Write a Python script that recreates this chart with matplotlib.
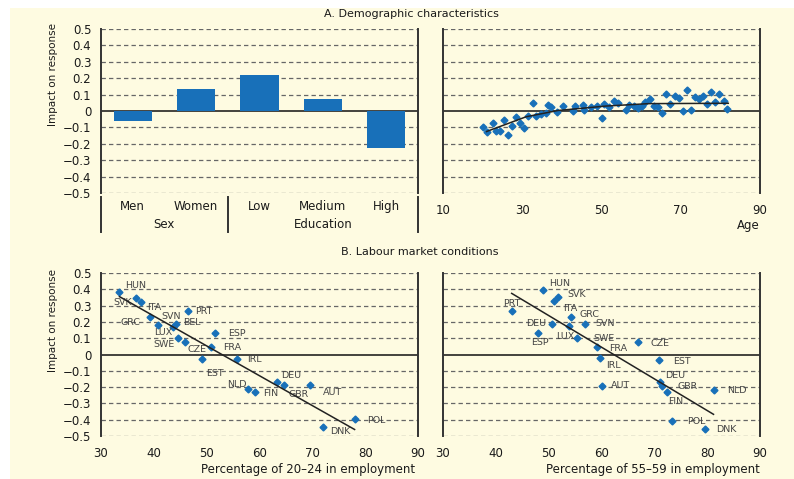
import numpy as np
import matplotlib.pyplot as plt
from matplotlib.patches import Rectangle
from matplotlib.lines import Line2D
import matplotlib.transforms as mtransforms

# --- data -------------------------------------------------------------
demo_cats = ['Men', 'Women', 'Low', 'Medium', 'High']
demo_vals = [-0.06, 0.135, 0.22, 0.075, -0.225]
demo_groups = ['Sex', 'Education']

age = [20.2, 21.2, 22.5, 23.3, 24.4, 25.3, 26.3, 27.5, 28.4, 29.5,
       30.4, 31.5, 32.6, 33.5, 34.7, 35.9, 36.6, 37.3, 38.7, 40.2,
       42.7, 43.4, 45.3, 45.5, 47.3, 48.8, 50.0, 50.7, 51.8, 53.2,
       54.1, 56.1, 57.0, 58.3, 59.2, 60.1, 60.9, 62.3, 63.2, 64.2,
       65.3, 66.2, 67.4, 68.5, 69.6, 70.5, 71.6, 72.6, 73.6, 74.6,
       75.6, 76.6, 77.6, 78.6, 79.7, 80.8, 81.6]
age_impact = [-0.098, -0.128, -0.073, -0.12, -0.12, -0.057, -0.148, -0.089, -0.037, -0.073,
              -0.104, -0.03, 0.049, -0.03, -0.02, -0.014, 0.037, 0.022, -0.008, 0.029,
              0.002, 0.03, 0.035, 0.004, 0.022, 0.03, -0.041, 0.041, 0.024, 0.059,
              0.047, 0.004, 0.037, 0.033, 0.018, 0.029, 0.053, 0.071, 0.029, 0.026,
              -0.014, 0.104, 0.041, 0.093, 0.081, 0.0, 0.126, 0.004, 0.087, 0.075,
              0.093, 0.041, 0.114, 0.057, 0.104, 0.063, 0.014]
age_trend_x = [21, 31, 39, 51, 62, 82]
age_trend_y = [-0.125, -0.035, 0.003, 0.03, 0.045, 0.047]

young_cty = ['HUN', 'SVK', 'ITA', 'GRC', 'SVN', 'BEL', 'LUX', 'SWE', 'CZE', 'PRT', 'ESP',
             'FRA', 'EST', 'IRL', 'DEU', 'GBR', 'AUT', 'NLD', 'FIN', 'POL', 'DNK']
young_emp = [33.5, 36.6, 37.5, 39.3, 43.7, 44.2, 40.7, 44.5, 45.9, 46.4, 51.5,
             50.9, 49.2, 55.8, 63.4, 64.6, 69.6, 57.9, 59.2, 78.0, 72.1]
young_impact = [0.385, 0.345, 0.322, 0.228, 0.167, 0.185, 0.183, 0.101, 0.075, 0.265, 0.132,
                0.044, -0.03, -0.026, -0.17, -0.19, -0.19, -0.21, -0.228, -0.398, -0.447]
young_fit_x = [33.5, 78.0]
young_fit_y = [0.355, -0.46]

old_cty = ['HUN', 'SVK', 'ITA', 'PRT', 'GRC', 'DEU', 'SVN', 'LUX', 'SWE', 'FRA', 'ESP',
           'CZE', 'EST', 'IRL', 'DEU', 'GBR', 'FIN', 'AUT', 'NLD', 'POL', 'DNK']
old_emp = [48.9, 51.7, 51.0, 43.1, 54.2, 50.7, 56.9, 53.9, 55.4, 59.1, 47.9,
           67.0, 70.8, 59.8, 71.1, 71.5, 72.4, 60.0, 81.3, 73.3, 79.5]
old_impact = [0.396, 0.351, 0.328, 0.269, 0.232, 0.189, 0.189, 0.175, 0.101, 0.046, 0.132,
              0.077, -0.034, -0.023, -0.167, -0.191, -0.228, -0.193, -0.22, -0.408, -0.457]
old_fit_x = [43.0, 81.2]
old_fit_y = [0.375, -0.367]

# label placement (pixel offsets, horizontal alignment)
young_lbl = {'HUN': (6, 6, 'left'), 'SVK': (-4, -4, 'right'), 'ITA': (7, -5, 'left'),
             'GRC': (-10, -5, 'right'), 'SVN': (-2, 11, 'center'), 'BEL': (7, 2, 'left'),
             'LUX': (6, -8, 'center'), 'SWE': (-3, -6, 'right'), 'CZE': (2, -7, 'left'),
             'PRT': (7, 0, 'left'), 'ESP': (14, -1, 'left'), 'FRA': (12, 0, 'left'),
             'EST': (12, -14, 'center'), 'IRL': (10, -1, 'left'), 'DEU': (4, 7, 'left'),
             'GBR': (5, -9, 'left'), 'AUT': (13, -7, 'left'), 'NLD': (-2, 4, 'right'),
             'FIN': (8, -2, 'left'), 'POL': (13, -1, 'left'), 'DNK': (7, -4, 'left')}
old_lbl = [(6, 6, 'left'), (10, 3, 'left'), (9, -7, 'left'), (0, 7, 'center'),
           (9, 2, 'left'), (-6, 0, 'right'), (10, 0, 'left'), (-4, -11, 'center'),
           (16, 0, 'left'), (12, -1, 'left'), (2, -10, 'center'), (12, -2, 'left'),
           (15, -1, 'left'), (6, -7, 'left'), (5, 6, 'left'), (15, -1, 'left'),
           (1, -10, 'left'), (9, 0, 'left'), (13, 0, 'left'), (15, 0, 'left'), (12, -1, 'left')]

CREAM = '#fefbe1'
BLUE = '#1870b9'
TXT = '#1a1a1a'
W, H = 794, 479


def fx(px):
    return px / W


def fy(py):
    return 1 - py / H


def minus(v):
    return '0' if abs(v) < 1e-9 else f'{v:.1f}'.replace('-', '\u2212')


fig = plt.figure(figsize=(W / 100, H / 100), dpi=100)
fig.patches.append(Rectangle((fx(10), 0), 1, fy(8), transform=fig.transFigure,
                             facecolor=CREAM, edgecolor='none', zorder=-10))

yt = np.round(np.arange(-0.5, 0.51, 0.1), 1)


def setup(ax, show_y):
    ax.set_facecolor('none')
    ax.set_ylim(-0.5, 0.5)
    for s in ['top', 'bottom']:
        ax.spines[s].set_visible(False)
    for s in ['left', 'right']:
        ax.spines[s].set_color('#333333')
        ax.spines[s].set_linewidth(1.4)
    for v in yt:
        if v == 0:
            ax.axhline(0, color='#111111', lw=1.1, zorder=2)
        else:
            ax.axhline(v, color='#666666', lw=0.9, ls=(0, (3.5, 2.5)), zorder=1)
    ax.set_yticks(yt)
    if show_y:
        ax.set_yticklabels([minus(v) for v in yt])
    else:
        ax.set_yticklabels([])
    ax.tick_params(length=0, labelsize=8.5, colors=TXT, pad=7)


# --- A: demographic bars ----------------------------------------------
axw = fx(760) - fx(443)
ax1 = fig.add_axes([fx(101), fy(193), axw, fy(29) - fy(193)])
setup(ax1, True)
ax1.bar(range(len(demo_cats)), demo_vals, width=0.6, color=BLUE, zorder=3)
ax1.set_xlim(-0.5, 4.5)
ax1.set_xticks(range(len(demo_cats)))
ax1.set_xticklabels(demo_cats)
ax1.tick_params(axis='x', pad=5)
tr = mtransforms.blended_transform_factory(ax1.transData, ax1.transAxes)
for xs in [-0.5, 1.5, 4.5]:
    ax1.add_line(Line2D([xs, xs], [-0.024, -0.238], transform=tr, color='#333333',
                        lw=1.4, clip_on=False))
ax1.text(0.5, -0.195, demo_groups[0], transform=tr, ha='center', va='center',
         fontsize=8.5, color=TXT)
ax1.text(3.0, -0.195, demo_groups[1], transform=tr, ha='center', va='center',
         fontsize=8.5, color=TXT)

ax2 = fig.add_axes([fx(443), fy(193), axw, fy(29) - fy(193)])
setup(ax2, False)
ax2.plot(age, age_impact, 'D', ms=3.5, color=BLUE, zorder=3)
ax2.plot(age_trend_x, age_trend_y, color='#222222', lw=1.1, zorder=4)
ax2.set_xlim(10, 90)
ax2.set_xticks([10, 30, 50, 70, 90])
ax2.tick_params(axis='x', pad=8)
fig.text(fx(760), fy(225), 'Age', ha='right', va='center', fontsize=8.5, color=TXT)

# --- B: labour market ---------------------------------------------------
ax3 = fig.add_axes([fx(101), fy(436), axw, fy(273) - fy(436)])
setup(ax3, True)
ax3.plot(young_emp, young_impact, 'D', ms=3.5, color=BLUE, zorder=3)
ax3.plot(young_fit_x, young_fit_y, color='#222222', lw=1.1, zorder=4)
for c, x, y in zip(young_cty, young_emp, young_impact):
    dx, dy, ha = young_lbl[c]
    ax3.annotate(c, (x, y), xytext=(dx, dy), textcoords='offset pixels', ha=ha,
                 va='center', fontsize=6.8, color='#444444')
ax3.set_xlim(30, 90)
ax3.set_xticks(range(30, 91, 10))
ax3.tick_params(axis='x', pad=8)

ax4 = fig.add_axes([fx(443), fy(436), axw, fy(273) - fy(436)])
setup(ax4, False)
ax4.plot(old_emp, old_impact, 'D', ms=3.5, color=BLUE, zorder=3)
ax4.plot(old_fit_x, old_fit_y, color='#222222', lw=1.1, zorder=4)
for c, x, y, (dx, dy, ha) in zip(old_cty, old_emp, old_impact, old_lbl):
    ax4.annotate(c, (x, y), xytext=(dx, dy), textcoords='offset pixels', ha=ha,
                 va='center', fontsize=6.8, color='#444444')
ax4.set_xlim(30, 90)
ax4.set_xticks(range(30, 91, 10))
ax4.tick_params(axis='x', pad=8)

# titles and axis labels
fig.text(fx(411), fy(14), 'A. Demographic characteristics', ha='center', va='center',
         fontsize=8, color=TXT)
fig.text(fx(420), fy(252), 'B. Labour market conditions', ha='center', va='center',
         fontsize=8, color=TXT)
fig.text(fx(53), fy(75), 'Impact on response', rotation=90, ha='center', va='center',
         fontsize=7.5, color=TXT)
fig.text(fx(53), fy(320), 'Impact on response', rotation=90, ha='center', va='center',
         fontsize=7.5, color=TXT)
fig.text(fx(415), fy(470), 'Percentage of 20\u201324 in employment', ha='right',
         va='center', fontsize=8.5, color=TXT)
fig.text(fx(760), fy(470), 'Percentage of 55\u201359 in employment', ha='right',
         va='center', fontsize=8.5, color=TXT)

fig.savefig('out.png', dpi=100, facecolor='white')
